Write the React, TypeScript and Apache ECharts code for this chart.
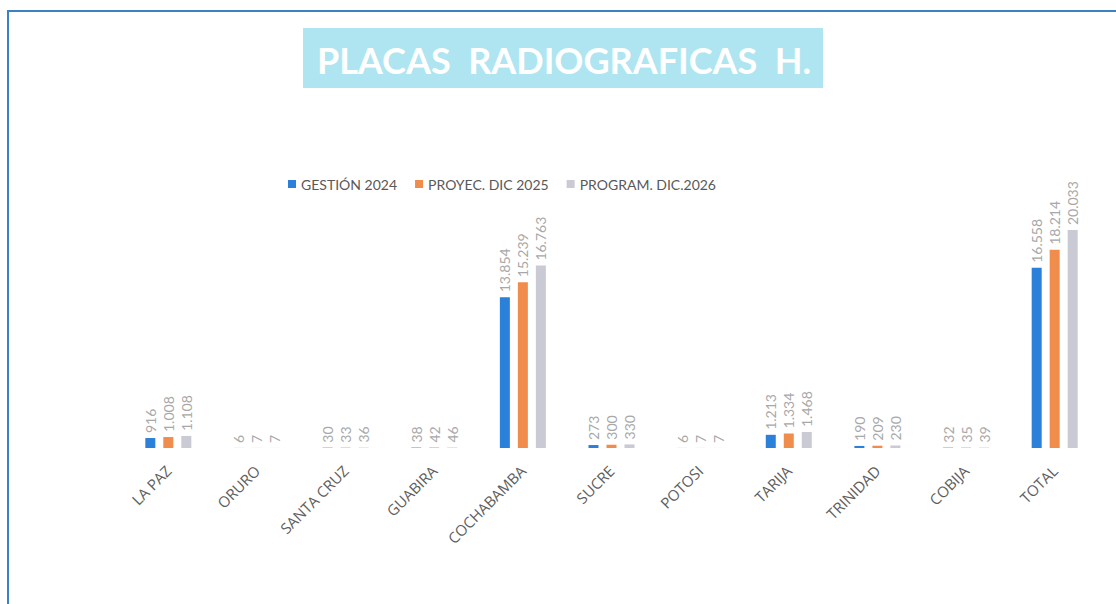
import React, { useEffect, useRef } from "react";
import * as echarts from "echarts";

const categories = ["LA PAZ", "ORURO", "SANTA CRUZ", "GUABIRA", "COCHABAMBA", "SUCRE", "POTOSI", "TARIJA", "TRINIDAD", "COBIJA", "TOTAL"];
const seriesNames = ["GESTIÓN 2024", "PROYEC. DIC 2025", "PROGRAM. DIC.2026"];
const gestion2024 = [916, 6, 30, 38, 13854, 273, 6, 1213, 190, 32, 16558];
const proyec2025 = [1008, 7, 33, 42, 15239, 300, 7, 1334, 209, 35, 18214];
const program2026 = [1108, 7, 36, 46, 16763, 330, 7, 1468, 230, 39, 20033];
const colors = ["#2b80d9", "#f08c4c", "#c9cad3"];

const fmt = (v: number) => String(v).replace(/\B(?=(\d{3})+(?!\d))/g, ".");

export default function App() {
  const ref = useRef<HTMLDivElement>(null);
  useEffect(() => {
    if (!ref.current) return;
    const chart = echarts.init(ref.current, undefined, { renderer: "svg" });
    const data = [gestion2024, proyec2025, program2026];
    chart.setOption({
      animation: false,
      backgroundColor: "#ffffff",
      textStyle: { fontFamily: "Lato, 'Open Sans', sans-serif" },
      graphic: [
        {
          type: "rect",
          shape: { x: 8, y: 11, width: 1130, height: 610 },
          style: { fill: "none", stroke: "#3b82c4", lineWidth: 2 },
          silent: true,
        },
        {
          type: "rect",
          shape: { x: 303, y: 28, width: 520, height: 60 },
          style: { fill: "#aee5f1" },
          silent: true,
        },
        {
          type: "text",
          x: 564,
          y: 60,
          style: {
            text: "PLACAS  RADIOGRAFICAS  H.",
            fill: "#ffffff",
            font: "bold 36px Lato, 'Open Sans', sans-serif",
            align: "center",
            verticalAlign: "middle",
          },
          silent: true,
        },
      ],
      legend: {
        left: 283,
        top: 172,
        itemWidth: 8,
        itemHeight: 8,
        itemGap: 18,
        icon: "rect",
        textStyle: { color: "#595959", fontSize: 14, fontFamily: "Lato, sans-serif" },
        data: seriesNames,
      },
      grid: { left: 124, right: 17, top: 176, bottom: 156, containLabel: false },
      xAxis: {
        type: "category",
        data: categories,
        axisLine: { show: false },
        axisTick: { show: false },
        axisLabel: {
          rotate: 45,
          color: "#5e5e5e",
          fontSize: 15,
          margin: 20,
          interval: 0,
          fontFamily: "'Open Sans', sans-serif",
        },
      },
      yAxis: {
        type: "value",
        min: 0,
        max: 25000,
        show: false,
        splitLine: { show: false },
      },
      series: seriesNames.map((name, i) => ({
        name,
        type: "bar",
        data: data[i],
        barWidth: 10,
        barGap: "80%",
        itemStyle: { color: colors[i] },
        label: {
          show: true,
          position: "top",
          rotate: 90,
          align: "left",
          verticalAlign: "middle",
          distance: 5,
          color: "#a8a8a8",
          fontSize: 14,
          fontFamily: "Lato, sans-serif",
          formatter: (p: any) => fmt(p.value),
        },
      })),
    });
    return () => chart.dispose();
  }, []);
  return <div ref={ref} style={{ position: "fixed", left: 0, top: 0, width: 1116, height: 604 }} />;
}
